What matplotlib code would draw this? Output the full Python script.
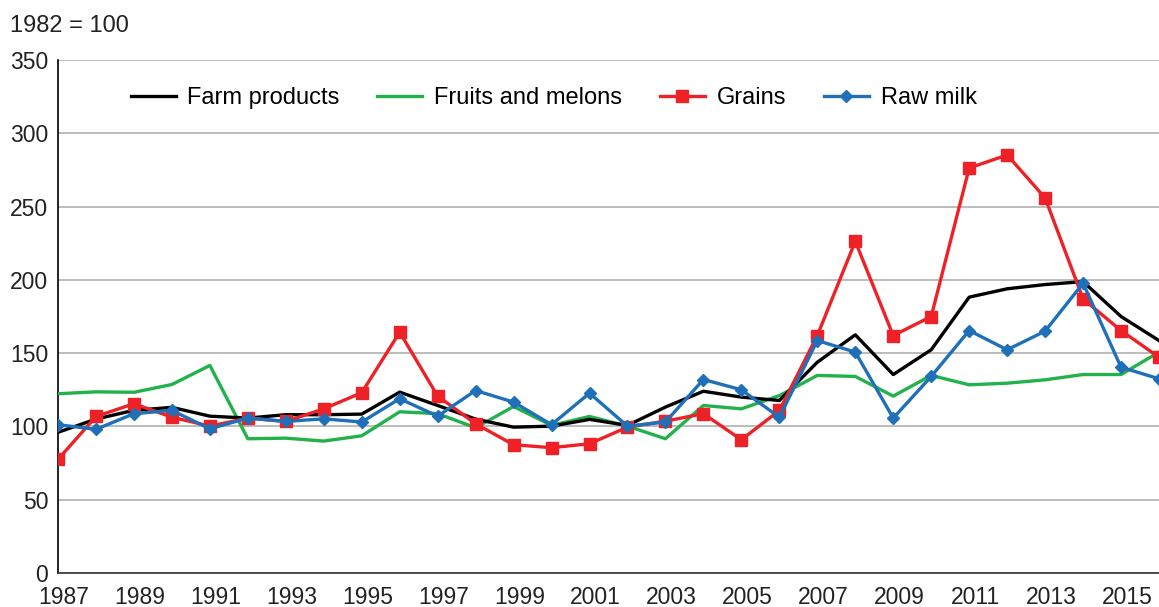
import numpy as np
import matplotlib
matplotlib.use("Agg")
import matplotlib.pyplot as plt
import matplotlib.transforms as mtransforms

plt.rcParams["font.family"] = ["Liberation Sans", "DejaVu Sans"]

years = list(range(1987, 2017))

farm_products = [96, 105, 111, 113, 107, 105.7, 108, 108, 108.4, 123.4,
                 114.3, 105, 99.5, 100.2, 104.8, 100.7, 113.2, 124, 120, 117.7,
                 143.8, 162.5, 135.4, 152.3, 188.2, 193.9, 196.8, 198.8, 175, 158.6]
fruits_melons = [122.3, 123.6, 123.3, 128.6, 141.6, 91.6, 92, 90, 93.6, 110,
                 108.7, 99.1, 113.6, 100.7, 106.8, 100.2, 91.6, 114.3, 112, 121,
                 134.8, 134.1, 120.7, 134.8, 128.4, 129.5, 131.8, 135.4, 135.4, 150.7]
grains = [77.5, 106.8, 115.5, 106.3, 100.2, 105.7, 103.4, 112, 123, 164.3,
          120.7, 101.8, 87.5, 85.5, 88.2, 99.5, 103.6, 108.7, 90.9, 110.9,
          162, 226.3, 162, 175, 276.3, 285.2, 255.9, 187, 165.4, 147.2]
raw_milk = [101.2, 98, 108.7, 110.9, 98.4, 105.7, 103.4, 105.2, 103, 118.9,
            107, 124.5, 116.6, 101.2, 122.7, 100.2, 103, 132, 125, 106.3,
            158.6, 150.7, 105.7, 134.1, 165.4, 152.3, 165, 197.7, 140.4, 132.5]

labels = ["Farm products", "Fruits and melons", "Grains", "Raw milk"]
colors = ["#000000", "#22b24c", "#ee2226", "#1f70b8"]

fig = plt.figure(figsize=(11.59, 6.07), dpi=100)
ax = fig.add_axes([58 / 1159, 34 / 607, 1 - 58 / 1159, 513 / 607])

lw = 2.4
ax.plot(years, fruits_melons, color=colors[1], lw=lw, label=labels[1], zorder=3)
ax.plot(years, farm_products, color=colors[0], lw=lw, label=labels[0], zorder=4)
ax.plot(years, grains, color=colors[2], lw=lw, marker="s", ms=8.5,
        label=labels[2], zorder=5)
ax.plot(years, raw_milk, color=colors[3], lw=lw, marker="D", ms=6,
        label=labels[3], zorder=6)

ax.set_xlim(1987, 2016)
ax.set_ylim(0, 350)
ax.set_yticks(np.arange(0, 351, 50))
ax.set_xticks(range(1987, 2016, 2))
ax.grid(axis="y", color="#b0b0b0", lw=1.2)
ax.set_axisbelow(True)
for s in ["top", "right"]:
    ax.spines[s].set_visible(False)
ax.spines["left"].set_linewidth(1.2)
ax.spines["bottom"].set_linewidth(1.2)
ax.spines["bottom"].set_color("#333333")
ax.tick_params(length=0, labelsize=16.5, colors="#222222")
ax.tick_params(axis="y", pad=7)
ax.tick_params(axis="x", pad=9)
offset = mtransforms.ScaledTranslation(6 / 100, 0, fig.dpi_scale_trans)
for lab in ax.get_xticklabels():
    lab.set_transform(lab.get_transform() + offset)

handles, labs = ax.get_legend_handles_labels()
order = [1, 0, 2, 3]
ax.legend([handles[i] for i in order], [labs[i] for i in order],
          loc="upper left", bbox_to_anchor=(0.051, 0.98), ncol=4, frameon=False,
          fontsize=17, handlelength=1.9, columnspacing=1.6, handletextpad=0.5,
          borderaxespad=0.3)

fig.text(10 / 1159, 1 - 26 / 607, "1982 = 100", fontsize=17, va="center",
         ha="left", color="#222222")

fig.savefig("out.png", dpi=100)
